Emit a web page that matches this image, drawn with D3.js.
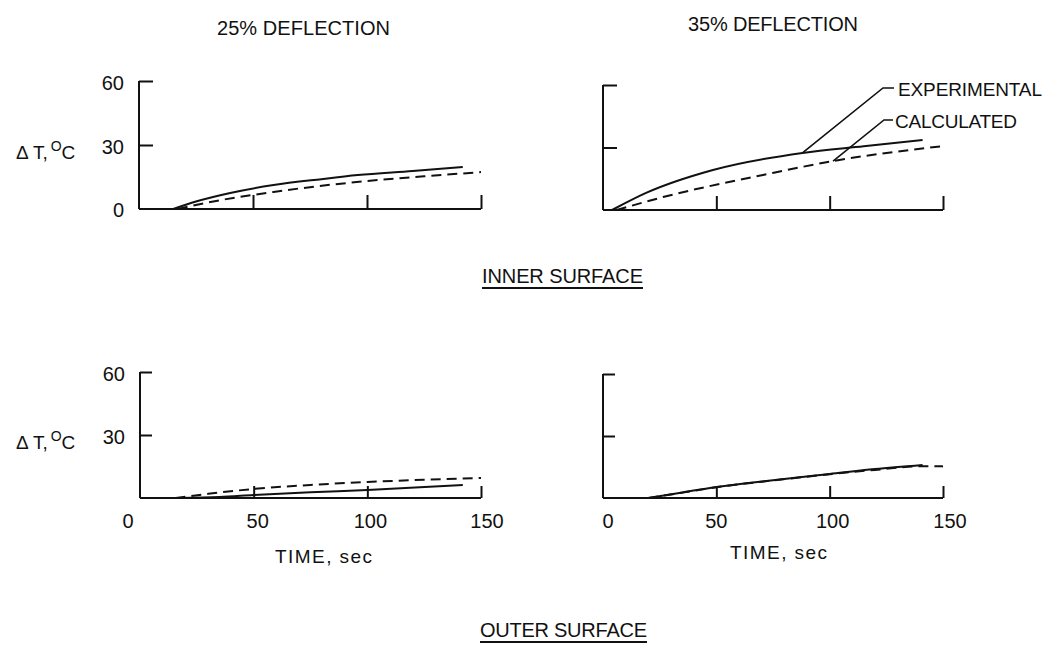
<!DOCTYPE html>
<html><head><meta charset="utf-8">
<script src="https://cdn.jsdelivr.net/npm/d3@7"></script>
<style>
body{margin:0;background:#fff}
text{font-family:"Liberation Sans",Arial,sans-serif;fill:#111}
</style>
</head><body><svg id="c" width="1061" height="648"></svg>
<script>
// ---------- data ----------
const xTickValues = [0, 50, 100, 150];
const yTickValues = [30, 60];
const yTickLabelsTop = ["0", "30", "60"];
const columnTitles = ["25% DEFLECTION", "35% DEFLECTION"];
const rowTitles = ["INNER SURFACE", "OUTER SURFACE"];
const seriesNames = ["EXPERIMENTAL", "CALCULATED"];
const xTitle = "TIME, sec";

// inner surface, 25% deflection
const inner25ExpTime = [15, 25, 40, 59, 80, 96, 120, 142];
const inner25ExpDT   = [0, 3.5, 7.5, 11.2, 14, 15.9, 17.8, 19.7];
const inner25CalcTime = [17, 30, 59, 100, 125, 150];
const inner25CalcDT   = [0, 3, 8, 13.1, 15.3, 17.3];
// inner surface, 35% deflection
const inner35ExpTime = [4, 19, 48.5, 88, 115, 141];
const inner35ExpDT   = [0, 8.2, 19.2, 27.4, 30.6, 33.6];
const inner35CalcTime = [6, 26.5, 70.6, 101.5, 150];
const inner35CalcDT   = [0, 6.2, 16.8, 23.5, 30.7];
// outer surface, 25% deflection
const outer25ExpTime = [17, 35, 50, 75, 100, 142];
const outer25ExpDT   = [0, 0.5, 1.4, 2.7, 3.8, 6.2];
const outer25CalcTime = [15.6, 30, 50, 75, 100, 125, 150];
const outer25CalcDT   = [0, 2, 4.3, 6.2, 7.6, 8.7, 9.5];
// outer surface, 35% deflection
const outer35ExpTime = [20, 35, 50, 75, 100, 120, 141];
const outer35ExpDT   = [0, 2.7, 5.3, 8.6, 11.6, 14, 16];
const outer35CalcTime = [20, 35, 50, 75, 100, 120, 141, 150];
const outer35CalcDT   = [0, 2.6, 5.2, 8.5, 11.5, 13.6, 15.4, 15.3];

// legend anchor points (data coordinates on the 35% inner curves)
const expLeaderAt = [88, 27.4];
const calcLeaderAt = [101.5, 23.5];

const zip = (t, v) => t.map((d, i) => ({t: d, v: v[i]}));

// ---------- layout ----------
const svg = d3.select("#c");
const panels = [
  {x0:139, x1:481, y0:209, y1:81,  exp:zip(inner25ExpTime,inner25ExpDT), calc:zip(inner25CalcTime,inner25CalcDT), ylab:true, zeroLab:true, xlab:false, tick:14},
  {x0:603, x1:943, y0:210, y1:85,  exp:zip(inner35ExpTime,inner35ExpDT), calc:zip(inner35CalcTime,inner35CalcDT), ylab:false, zeroLab:false, xlab:false, tick:14, legend:true},
  {x0:140, x1:481, y0:498, y1:372, exp:zip(outer25ExpTime,outer25ExpDT), calc:zip(outer25CalcTime,outer25CalcDT), ylab:true, zeroLab:false, xlab:true, tick:12, lx:[-12,4,3,6], tx:275, ty:563},
  {x0:603, x1:943, y0:498, y1:374, exp:zip(outer35ExpTime,outer35ExpDT), calc:zip(outer35CalcTime,outer35CalcDT), ylab:false, zeroLab:false, xlab:true, tick:12, lx:[5,0,3,7], tx:730, ty:559}
];

panels.forEach((p, i) => {
  const x = d3.scaleLinear().domain([0,150]).range([p.x0, p.x1]);
  const y = d3.scaleLinear().domain([0,60]).range([p.y0, p.y1]);
  const g = svg.append("g");

  // x axis
  const xa = d3.axisBottom(x).tickValues(xTickValues.slice(1)).tickSizeInner(-p.tick).tickSizeOuter(0);
  const gx = g.append("g").attr("transform", `translate(0,${p.y0})`).call(xa);
  gx.select(".domain").attr("d", `M${p.x0},0H${p.x1}`).attr("stroke", "#111").attr("stroke-width", 2);
  gx.selectAll("line").attr("stroke", "#111").attr("stroke-width", 2);
  gx.selectAll("text").remove();

  // y axis
  const ya = d3.axisLeft(y).tickValues(yTickValues).tickSizeInner(-p.tick).tickSizeOuter(0).tickPadding(15);
  const gy = g.append("g").attr("transform", `translate(${p.x0},0)`).call(ya);
  gy.select(".domain").attr("d", `M0,${p.y0}V${p.y1}`).attr("stroke", "#111").attr("stroke-width", 2);
  gy.selectAll("line").attr("stroke", "#111").attr("stroke-width", 2);
  gy.selectAll("text").attr("font-size", 20).attr("dy", "0.4em").attr("fill", "#111");
  if (!p.ylab) gy.selectAll("text").remove();
  if (p.zeroLab) {
    g.append("text").attr("x", p.x0 - 15).attr("y", y(0)).attr("dy", "0.4em")
      .attr("text-anchor", "end").attr("font-size", 20).text(yTickLabelsTop[0]);
  }

  if (p.xlab) {
    xTickValues.forEach((v, k) => {
      g.append("text").attr("x", x(v) + p.lx[k]).attr("y", p.y0 + 30)
        .attr("text-anchor", "middle").attr("font-size", 20).text(String(v));
    });
    g.append("text").attr("x", p.tx).attr("y", p.ty)
      .attr("font-size", 19).attr("textLength", 97).text(xTitle);
  }

  if (p.ylab) {
    const ty = y(30) + 14;
    const t = g.append("text").attr("x", 16).attr("y", ty).attr("font-size", 19);
    t.append("tspan").text("\u0394 T,");
    t.append("tspan").attr("font-size", 14).attr("dy", -8).attr("dx", 3).text("O");
    t.append("tspan").attr("dy", 8).text("C");
  }

  const line = d3.line().x(d => x(d.t)).y(d => y(d.v)).curve(d3.curveMonotoneX);
  g.append("path").datum(p.exp).attr("d", line).attr("fill", "none")
    .attr("stroke", "#111").attr("stroke-width", 2);
  g.append("path").datum(p.calc).attr("d", line).attr("fill", "none")
    .attr("stroke", "#111").attr("stroke-width", 2).attr("stroke-dasharray", "10,6");

  if (p.legend) {
    const e = [x(expLeaderAt[0]), y(expLeaderAt[1])];
    const c = [x(calcLeaderAt[0]), y(calcLeaderAt[1])];
    g.append("path").attr("d", `M${e[0]},${e[1]}L883,88H894`).attr("fill","none").attr("stroke","#111").attr("stroke-width",1.6);
    g.append("path").attr("d", `M${c[0]},${c[1]}L884,120H893`).attr("fill","none").attr("stroke","#111").attr("stroke-width",1.6);
    g.append("text").attr("x", 898).attr("y", 96).attr("font-size", 19).attr("textLength", 144).text(seriesNames[0]);
    g.append("text").attr("x", 895).attr("y", 128).attr("font-size", 19).attr("textLength", 122).text(seriesNames[1]);
  }
});

// column titles
svg.append("text").attr("x", 217).attr("y", 35).attr("font-size", 20).attr("textLength", 173).text(columnTitles[0]);
svg.append("text").attr("x", 688).attr("y", 31).attr("font-size", 20).attr("textLength", 170).text(columnTitles[1]);

// row titles with underline
[[482, 283, 161], [480, 637, 167]].forEach((r, i) => {
  svg.append("text").attr("x", r[0]).attr("y", r[1]).attr("font-size", 20).attr("textLength", r[2]).text(rowTitles[i]);
  svg.append("line").attr("x1", r[0]).attr("x2", r[0] + r[2]).attr("y1", r[1] + 5).attr("y2", r[1] + 5)
    .attr("stroke", "#111").attr("stroke-width", 2);
});
</script></body></html>
